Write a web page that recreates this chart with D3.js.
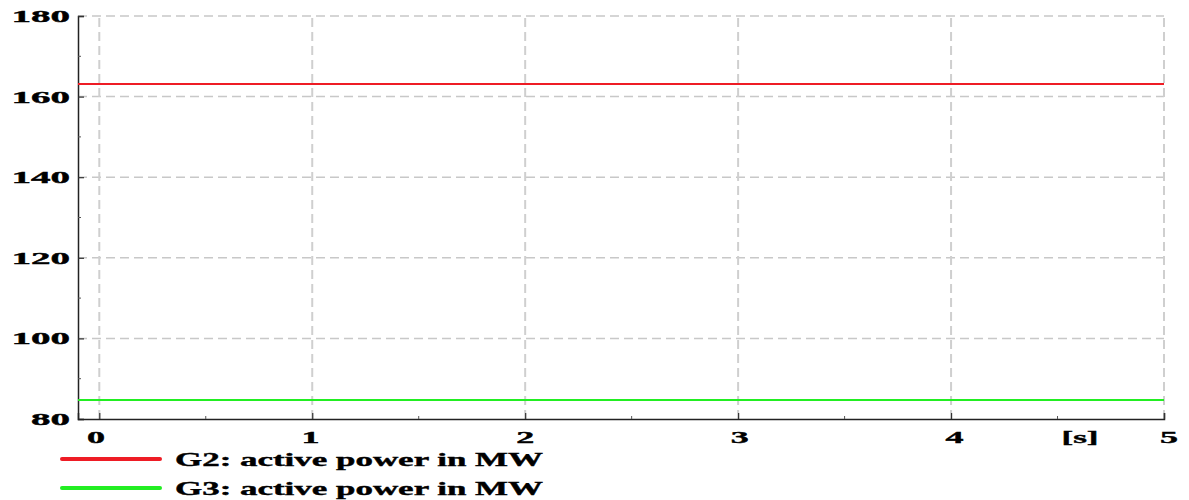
<!DOCTYPE html>
<html><head><meta charset="utf-8">
<script src="https://cdn.jsdelivr.net/npm/d3@7"></script>
<style>html,body{margin:0;padding:0;background:#fff;overflow:hidden}</style>
</head><body>
<svg id="c" width="1189" height="500"></svg>
<script>
const timeS = [-0.1, 5];
const g2Power = [163.1, 163.1];
const g3Power = [84.7, 84.7];
const xTicks = [0, 1, 2, 3, 4, 5];
const xMinor = [0.5, 1.5, 2.5, 3.5, 4.5];
const yTicks = [80, 100, 120, 140, 160, 180];
const yMinor = [90, 110, 130, 150, 170];
const seriesNames = ["G2: active power in MW", "G3: active power in MW"];
const seriesColors = ["#ee1c25", "#22ee22"];
const xUnit = "[s]";

const svg = d3.select("#c");
const x = d3.scaleLinear().domain([-0.1, 5]).range([78, 1164]);
const xLab = d3.scaleLinear().domain([0, 5]).range([96, 1169]);
const y = d3.scaleLinear().domain([80, 180]).range([419, 16]);
const font = "'Liberation Serif', 'Times New Roman', serif";

// grid
svg.append("g").selectAll("line").data(yTicks.slice(1)).join("line")
  .attr("x1", x(-0.1)).attr("x2", x(5)).attr("y1", d => y(d)).attr("y2", d => y(d))
  .attr("stroke", "#c8c8c8").attr("stroke-width", 1.5).attr("stroke-dasharray", "9,5");
svg.append("g").selectAll("line").data(xTicks).join("line")
  .attr("x1", d => x(d)).attr("x2", d => x(d)).attr("y1", y(80)).attr("y2", y(180))
  .attr("stroke", "#cfcfcf").attr("stroke-width", 2).attr("stroke-dasharray", "9,5");

// axes
const yAxis = d3.axisLeft(y).tickValues(yTicks).tickSize(-6).tickFormat("");
const gy = svg.append("g").attr("transform", `translate(${x(-0.1)},0)`).call(yAxis);
const xAxis = d3.axisBottom(x).tickValues(xTicks).tickSize(-6).tickFormat("");
const gx = svg.append("g").attr("transform", `translate(0,${y(80)})`).call(xAxis);
[gy, gx].forEach(g => { g.select(".domain").attr("stroke", "#222").attr("stroke-width", 1.5);
  g.selectAll(".tick line").attr("stroke", "#333").attr("stroke-width", 1.2); });
svg.append("g").selectAll("line").data(yMinor).join("line")
  .attr("x1", x(-0.1)).attr("x2", x(-0.1) + 3).attr("y1", d => y(d)).attr("y2", d => y(d))
  .attr("stroke", "#555");
svg.append("g").selectAll("line").data(xMinor).join("line")
  .attr("x1", d => x(d)).attr("x2", d => x(d)).attr("y1", y(80)).attr("y2", y(80) - 3)
  .attr("stroke", "#555");

function stretchText(sel, w) {
  sel.attr("textLength", w).attr("lengthAdjust", "spacingAndGlyphs");
}
// y labels
svg.append("g").selectAll("text").data(yTicks).join("text")
  .attr("x", 70).attr("y", d => y(d) + 6).attr("text-anchor", "end")
  .attr("font-family", font).attr("font-weight", "bold").attr("font-size", 17.5)
  .attr("stroke", "#000").attr("stroke-width", 0.4)
  .text(d => d).each(function(d){ stretchText(d3.select(this), String(d).length * 19.5); });
// x labels
svg.append("g").selectAll("text").data(xTicks).join("text")
  .attr("x", d => xLab(d)).attr("y", 443).attr("text-anchor", "middle")
  .attr("font-family", font).attr("font-weight", "bold").attr("font-size", 17.5)
  .attr("stroke", "#000").attr("stroke-width", 0.4)
  .text(d => d).each(function(){ stretchText(d3.select(this), 18); });
svg.append("text").attr("x", 1080).attr("y", 443).attr("text-anchor", "middle")
  .attr("font-family", font).attr("font-weight", "bold").attr("font-size", 17.5)
  .attr("stroke", "#000").attr("stroke-width", 0.4)
  .text(xUnit).call(s => stretchText(s, 37));

// data lines
const line = d3.line().x((d, i) => x(timeS[i])).y(d => y(d));
[g2Power, g3Power].forEach((s, i) => {
  svg.append("path").datum(s).attr("d", line).attr("fill", "none")
    .attr("stroke", seriesColors[i]).attr("stroke-width", 2);
});

// legend
const leg = svg.append("g");
seriesNames.forEach((n, i) => {
  const ly = 459 + i * 29;
  leg.append("line").attr("x1", 62).attr("x2", 160).attr("y1", ly).attr("y2", ly)
    .attr("stroke", seriesColors[i]).attr("stroke-width", 4).attr("stroke-linecap", "round");
  leg.append("text").attr("x", 175).attr("y", ly + 7)
    .attr("font-family", font).attr("font-weight", "bold").attr("font-size", 19)
    .attr("stroke", "#000").attr("stroke-width", 0.4)
    .text(n).call(s => stretchText(s, 368));
});
</script>
</body></html>
